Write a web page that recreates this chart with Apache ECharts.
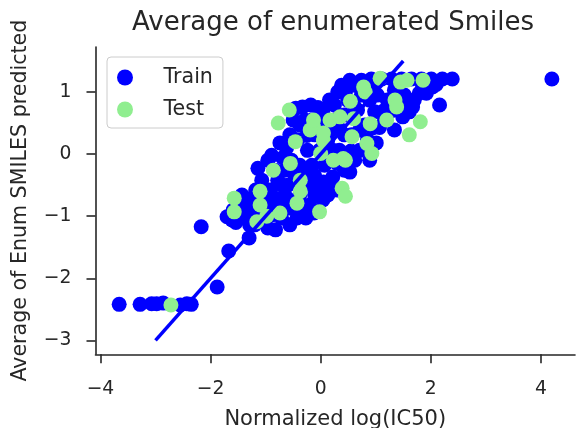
<!DOCTYPE html>
<html><head><meta charset="utf-8">
<script src="https://cdn.jsdelivr.net/npm/echarts@6/dist/echarts.min.js"></script>
<style>html,body{margin:0;padding:0;background:#fff}#c{width:576px;height:428px}</style>
</head><body><div id="c"></div>
<script>
const trainX = [-3.66,-3.28,-3.07,-2.98,-2.86,-2.55,-2.43,-2.35,-1.88,-1.67,-1.30,-2.17,-1.61,-1.70,-1.54,-1.50,-1.43,-1.38,-1.29,-1.20,-1.25,-1.14,-1.07,-1.18,-1.01,-1.11,-0.96,-0.82,-0.89,-0.92,-0.83,-0.89,-0.74,-0.69,-0.78,-0.65,-0.56,-0.71,-0.56,-0.43,-0.47,-0.53,-0.56,-0.42,-0.38,-0.45,-0.33,-0.18,-0.29,-0.11,-0.24,-0.16,-0.29,-0.11,-0.20,-0.27,-0.12,-0.02,0.04,0.16,0.31,0.38,0.25,0.13,0.34,0.07,0.22,0.13,0.31,0.43,0.04,0.53,0.62,0.74,0.49,0.67,0.80,0.56,0.71,0.53,0.89,0.85,0.92,1.11,1.29,1.03,1.21,0.98,1.16,1.07,1.01,1.34,1.39,1.47,1.65,1.83,2.01,2.21,2.39,1.52,1.70,1.79,1.92,2.03,1.61,1.49,1.67,2.16,4.20,-1.38,-1.07,-0.74,-0.60,-0.38,-0.38,-0.65,-0.38,-0.02,-0.11,0.07,0.25,0.43,0.43,0.62,0.74,0.89,1.34,1.25,0.94,0.71,0.22,-0.96,-0.02,-0.16,0.16,-0.92,-1.29,-1.20,-1.59,-1.45,-1.33,-1.02,-0.85,-0.70,-0.50,-0.62,-0.50,-0.25,-0.05,0.10,0.20,0.35,0.30,0.05,0.55,0.60,0.95,1.15,1.45,1.85,2.10,0.45,-0.30,-0.15];
const trainY = [-2.42,-2.42,-2.41,-2.41,-2.40,-2.43,-2.41,-2.42,-2.14,-1.56,-1.35,-1.17,-1.06,-1.01,-1.10,-0.90,-0.66,-0.98,-1.14,-0.90,-0.71,-0.23,-0.42,-0.58,-0.74,-1.03,-1.19,-1.22,-0.98,-0.58,-0.26,-0.02,0.18,-0.06,-0.42,-0.66,-0.87,-1.03,-1.14,-1.03,-0.34,-0.10,0.31,0.23,0.47,0.74,0.76,0.79,0.55,0.31,0.06,-0.18,-0.50,-0.66,-0.82,-1.03,-0.95,-0.50,0.68,0.87,1.00,1.11,0.55,0.23,0.06,-0.18,-0.37,-0.66,-0.58,-0.26,-0.74,1.19,1.11,1.19,0.87,0.71,0.47,0.31,0.06,-0.29,-0.10,0.23,1.21,1.21,1.21,0.95,0.87,0.68,0.55,0.43,0.18,0.39,0.71,1.21,1.21,1.21,1.21,1.21,1.21,0.95,0.87,0.98,0.98,1.08,0.68,0.60,0.76,0.79,1.21,-0.74,-0.66,-0.74,-0.50,-0.66,-0.90,-0.26,-0.18,0.06,-0.34,0.39,0.79,0.31,0.63,-0.10,0.95,0.87,1.03,0.68,0.42,0.39,0.06,-0.10,0.55,0.55,-0.50,-0.82,-0.87,-1.14,-0.90,-0.80,-1.05,-0.95,-0.70,-0.50,-0.75,0.10,0.55,0.30,0.75,0.10,0.40,0.40,-0.15,-0.45,0.05,0.80,1.05,0.70,0.85,1.10,1.12,1.00,-0.30,-0.50];
const testX = [-2.72,-1.57,-1.57,-1.10,-1.10,-0.98,-1.16,-0.74,-0.86,-0.55,-0.46,-0.77,-0.57,-0.43,-0.37,-0.37,-0.02,-0.13,-0.19,-0.13,0.17,0.35,0.00,0.05,0.05,0.23,0.41,0.45,0.39,0.45,0.54,0.60,0.57,0.84,0.93,0.90,0.78,0.81,1.08,1.45,1.57,1.35,1.38,1.20,1.86,1.81,1.61];
const testY = [-2.43,-0.71,-0.93,-0.60,-0.82,-1.00,-1.09,-0.95,-0.26,-0.15,0.20,0.50,0.71,-0.79,-0.60,-0.42,-0.93,0.44,0.39,0.55,0.55,0.60,0.01,0.22,0.34,-0.10,-0.07,-0.10,-0.55,-0.68,0.85,0.57,0.28,0.17,0.01,0.49,1.08,1.00,1.22,1.16,1.19,0.87,0.76,0.55,1.19,0.52,0.31];
const fitX = [-3, 1.5];
const fitY = [-3, 1.5];
const xTicks = [-4, -2, 0, 2, 4];
const yTicks = [-3, -2, -1, 0, 1];

const FONT = 'DejaVu Sans';
const INK = '#262626';
const fmt = v => (v < 0 ? '\u2212' : '') + Math.abs(v);
const pairs = (xs, ys) => xs.map((x, i) => [x, ys[i]]);

const chart = echarts.init(document.getElementById('c'), null, {renderer: 'canvas'});
chart.setOption({
  animation: false,
  backgroundColor: '#fff',
  title: {
    text: 'Average of enumerated Smiles',
    left: 333, top: 10, textAlign: 'center', padding: 0,
    textStyle: {fontFamily: FONT, fontSize: 26, fontWeight: 'normal', color: INK}
  },
  legend: {
    data: ['Train', 'Test'],
    orient: 'vertical', left: 107, top: 57,
    padding: [10, 10, 8, 10], itemGap: 11, itemWidth: 37, itemHeight: 16,
    icon: 'circle',
    backgroundColor: 'rgba(255,255,255,0.8)', borderColor: '#cccccc', borderWidth: 1, borderRadius: 4,
    textStyle: {fontFamily: FONT, fontSize: 20.6, color: INK, lineHeight: 20, padding: [0, 0, 0, 15]}
  },
  grid: {left: 95.5, right: 1, top: 47, bottom: 73.7, containLabel: false, outerBoundsMode: 'none'},
  xAxis: {
    type: 'value', min: -4.09, max: 4.62,
    name: 'Normalized log(IC50)', nameLocation: 'middle', nameGap: 55,
    nameTextStyle: {fontFamily: FONT, fontSize: 21, color: INK},
    axisLine: {show: true, onZero: false, lineStyle: {color: INK, width: 1.6}},
    axisTick: {show: true, length: 9, customValues: xTicks, lineStyle: {color: INK, width: 1.6}},
    axisLabel: {customValues: xTicks, formatter: fmt, fontFamily: FONT, fontSize: 18.75, color: INK, margin: 25},
    splitLine: {show: false}
  },
  yAxis: {
    type: 'value', min: -3.225, max: 1.725,
    name: 'Average of Enum SMILES predicted', nameLocation: 'middle', nameGap: 64,
    nameTextStyle: {fontFamily: FONT, fontSize: 20.6, color: INK},
    axisLine: {show: true, onZero: false, lineStyle: {color: INK, width: 1.6}},
    axisTick: {show: true, length: 9, customValues: yTicks, lineStyle: {color: INK, width: 1.6}},
    axisLabel: {customValues: yTicks, formatter: fmt, fontFamily: FONT, fontSize: 18.75, color: INK, margin: 24},
    splitLine: {show: false}
  },
  series: [
    {name: 'Train', type: 'scatter', data: pairs(trainX, trainY), symbolSize: 15,
     itemStyle: {color: '#0000ff', opacity: 1}, emphasis: {disabled: true}},
    {name: 'Test', type: 'scatter', data: pairs(testX, testY), symbolSize: 15,
     itemStyle: {color: '#90ee90', opacity: 1}, emphasis: {disabled: true}},
    {name: 'fit', type: 'line', data: pairs(fitX, fitY), showSymbol: false, symbol: 'none',
     lineStyle: {color: '#0000ff', width: 3.5}, emphasis: {disabled: true}}
  ]
});
</script></body></html>
